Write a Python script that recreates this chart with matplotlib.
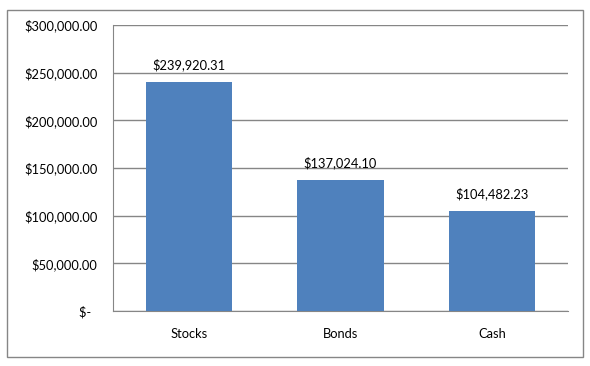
import matplotlib.pyplot as plt
from matplotlib.patches import Rectangle
from matplotlib.ticker import FuncFormatter

categories = ["Stocks", "Bonds", "Cash"]
values = [239920.31, 137024.10, 104482.23]
yticks = [0, 50000, 100000, 150000, 200000, 250000, 300000]

plt.rcParams["font.family"] = ["Lato", "DejaVu Sans"]

fig = plt.figure(figsize=(5.9, 3.66), dpi=100)
W, H = 590, 366
# plot area in pixel coords of the reference
ax = fig.add_axes([113 / W, 1 - 311 / H, (568 - 113) / W, (311 - 25) / H])

# outer chart border
fig.patches.append(Rectangle((7 / W, 1 - 357 / H), (583 - 7) / W, (357 - 10) / H,
                             transform=fig.transFigure, fill=False,
                             edgecolor="#868686", linewidth=1.0))

x = range(len(categories))
ax.bar(x, values, width=0.57, color="#4F81BD", zorder=3)
for i, v in enumerate(values):
    ax.text(i, v + 12000, "${:,.2f}".format(v), ha="center", va="bottom",
            fontsize=9.3, color="black")

ax.set_xlim(-0.5, 2.5)
ax.set_ylim(0, 300000)
ax.set_yticks(yticks)


def money(v, pos):
    if v == 0:
        return "$-  "
    return "${:,.2f}".format(v)


ax.yaxis.set_major_formatter(FuncFormatter(money))
ax.set_xticks(list(x))
ax.set_xticklabels(categories)
ax.tick_params(axis="both", length=0, labelsize=9.3, colors="black")
ax.tick_params(axis="y", pad=11)
ax.tick_params(axis="x", pad=12)

ax.grid(axis="y", color="#868686", linewidth=1.0, zorder=0)
for s in ["top", "right"]:
    ax.spines[s].set_visible(False)
ax.spines["left"].set_color("#868686")
ax.spines["bottom"].set_color("#868686")

fig.savefig("out.png", dpi=100)
